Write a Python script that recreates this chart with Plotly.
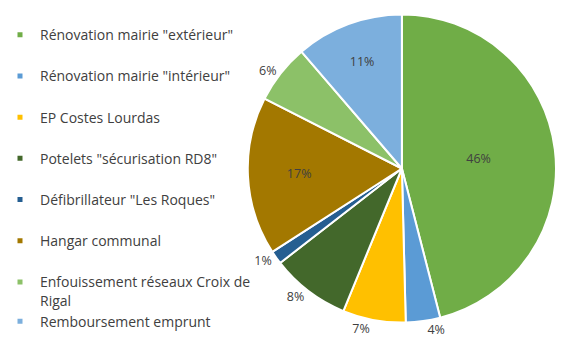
import plotly.graph_objects as go

categories = [
    'Rénovation mairie "extérieur"',
    'Rénovation mairie "intérieur"',
    'EP Costes Lourdas',
    'Potelets "sécurisation RD8"',
    'Défibrillateur "Les Roques"',
    'Hangar communal',
    'Enfouissement réseaux Croix de<br>Rigal',
    'Remboursement emprunt',
]
values = [46.0, 3.6, 6.6, 8.3, 1.4, 16.6, 6.2, 11.3]
colors = ['#70AD47', '#5B9BD5', '#FFC000', '#43682B', '#255E91', '#A37800', '#8CC168', '#7CAFDD']
text_positions = ['inside', 'outside', 'outside', 'outside', 'outside', 'inside', 'outside', 'inside']
legend_groups = ['g1', 'g2', 'g3', 'g4', 'g5', 'g6', 'g7', 'g7']

fig = go.Figure()
fig.add_trace(go.Pie(
    labels=categories,
    values=values,
    sort=False,
    direction='clockwise',
    rotation=0,
    marker=dict(colors=colors, line=dict(color='white', width=2)),
    texttemplate='%{percent:.0%}',
    textposition=text_positions,
    textfont=dict(family='Open Sans', size=12.5, color='#404040'),
    insidetextorientation='horizontal',
    showlegend=False,
    hoverinfo='label+percent',
    domain=dict(x=[250/561, 1.0], y=[10/352, 342/352]),
))

for name, col, grp in zip(categories, colors, legend_groups):
    fig.add_trace(go.Scatter(
        x=[None], y=[None], mode='markers', name=name,
        marker=dict(symbol='square', size=5, color=col),
        legendgroup=grp, showlegend=True,
    ))

fig.update_layout(
    width=561, height=352,
    margin=dict(l=0, r=0, t=0, b=0),
    paper_bgcolor='white', plot_bgcolor='white',
    xaxis=dict(visible=False), yaxis=dict(visible=False),
    legend=dict(
        x=0, y=1 - 20/352, xanchor='left', yanchor='top',
        font=dict(family='Open Sans', size=14, color='#404040'),
        tracegroupgap=20, itemwidth=30, valign='top',
        bgcolor='rgba(0,0,0,0)',
    ),
)

fig.write_html('out.html')
